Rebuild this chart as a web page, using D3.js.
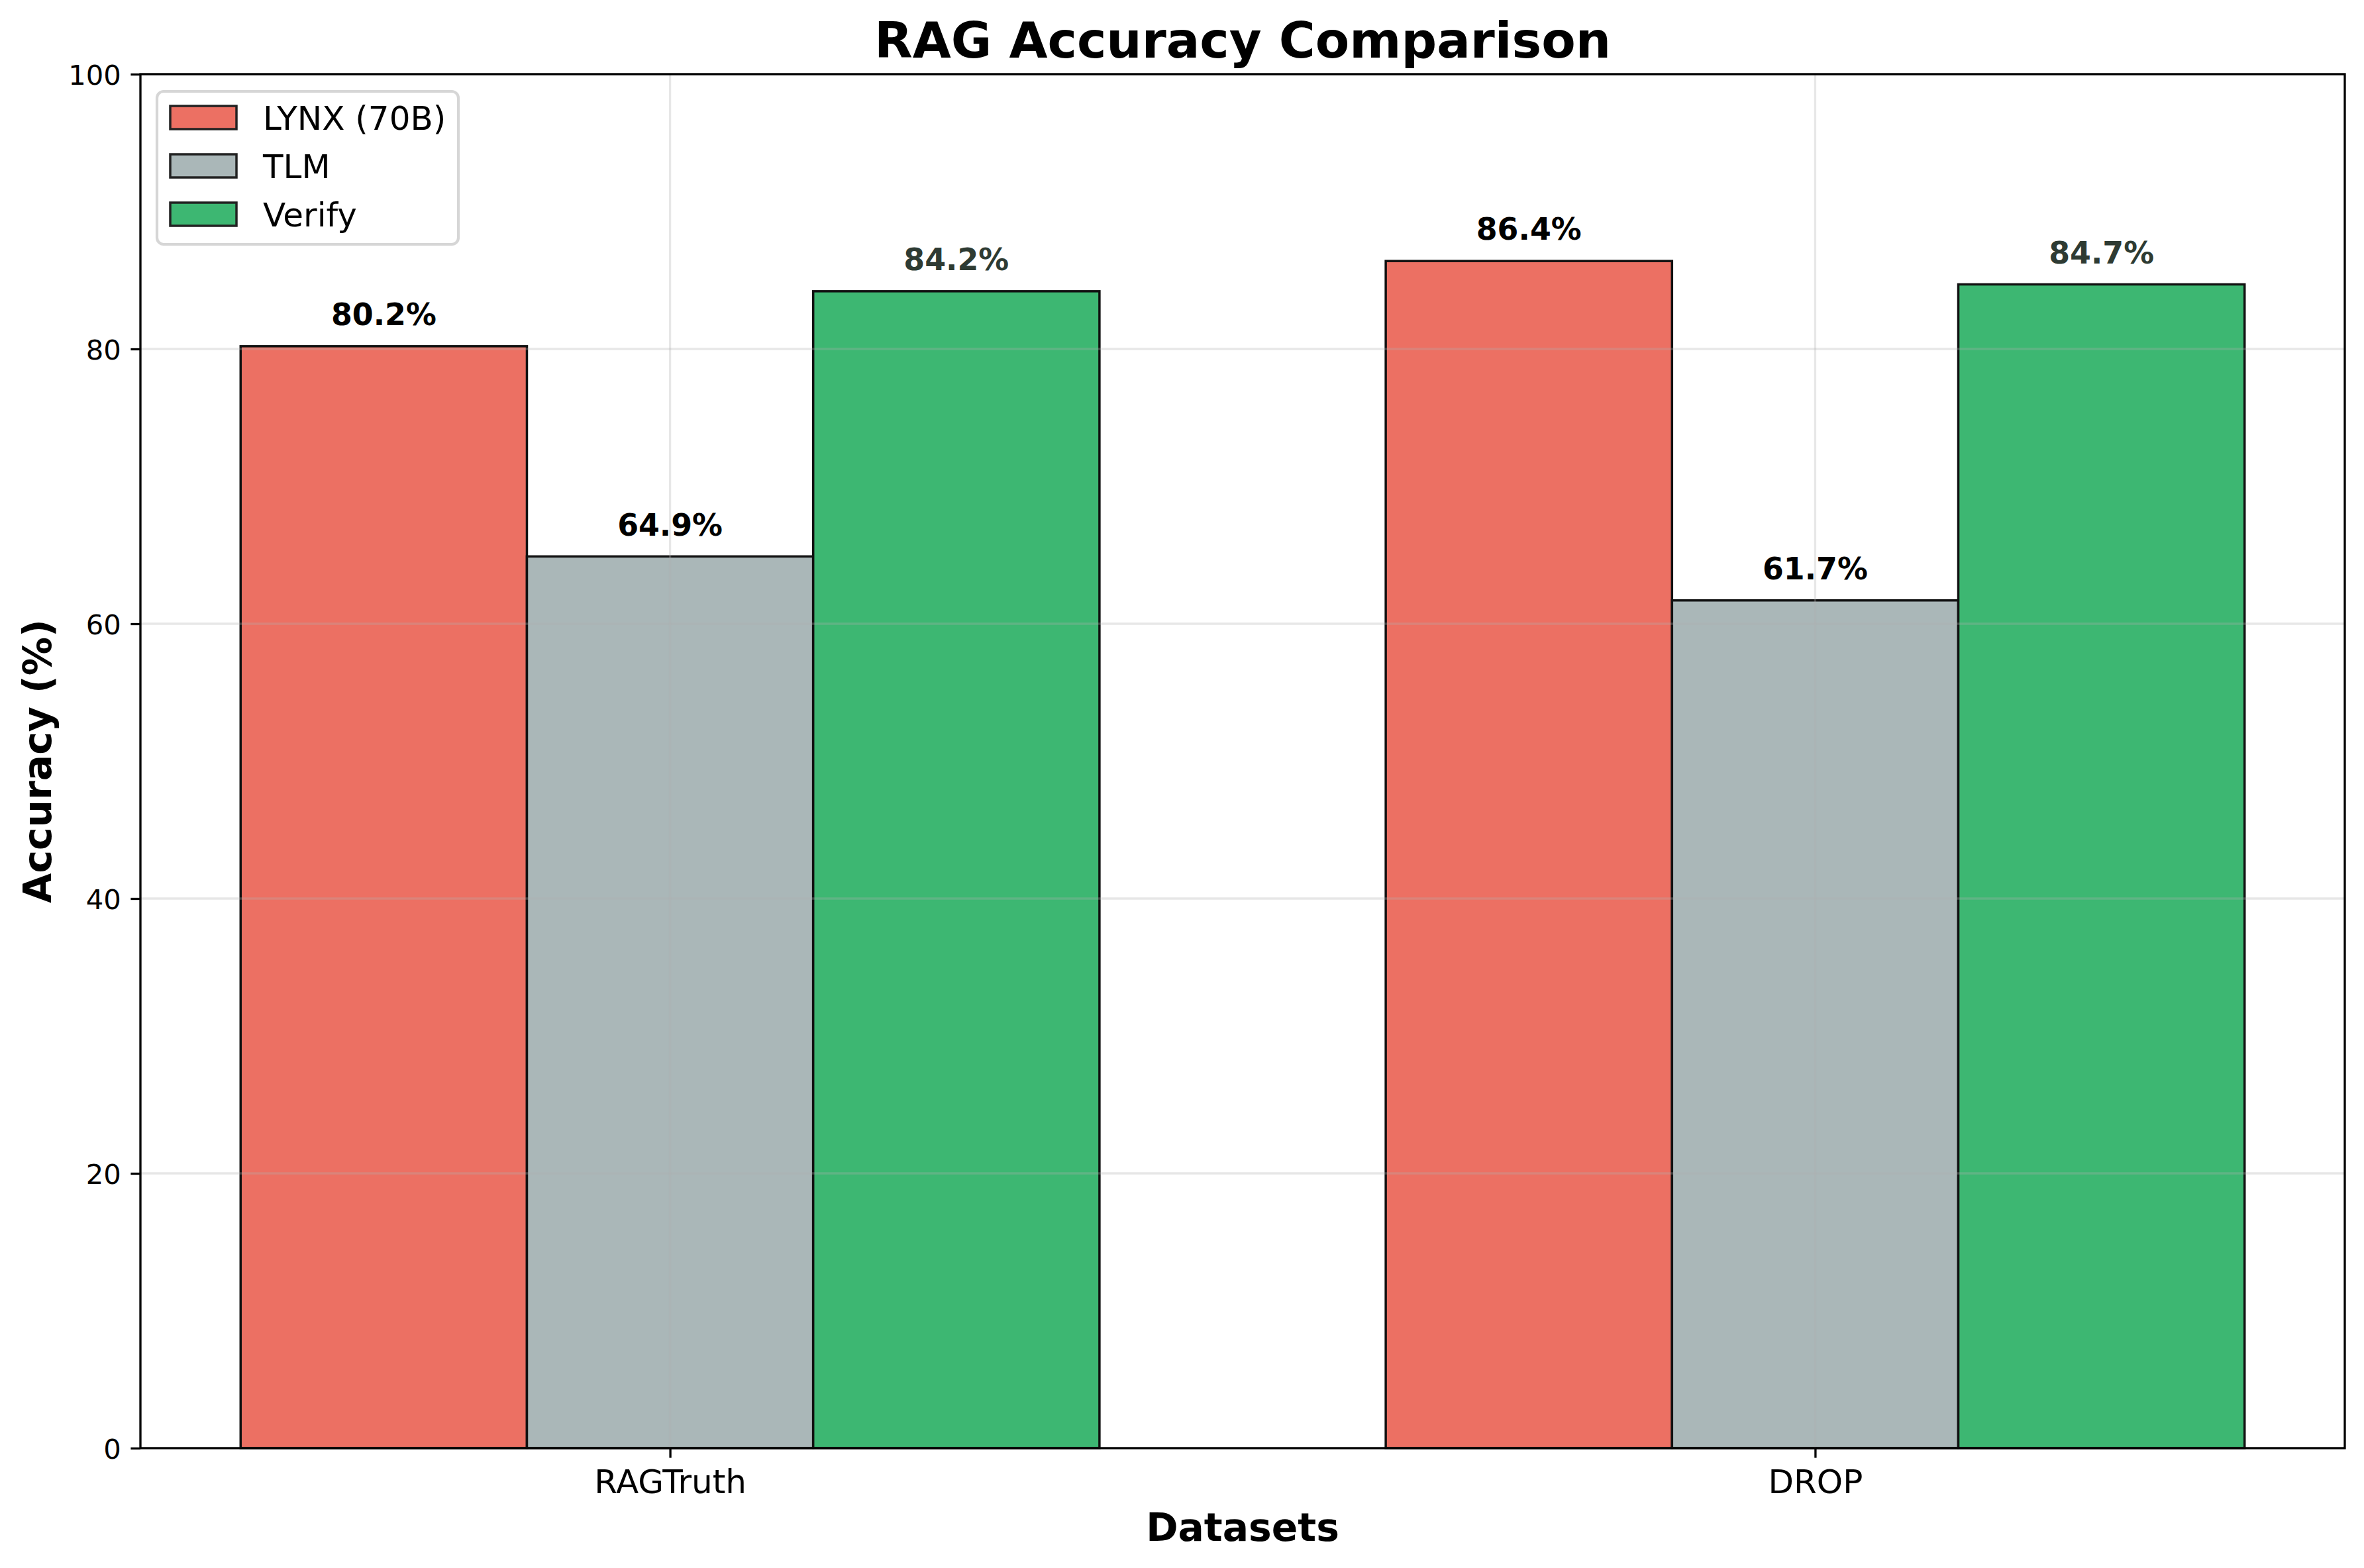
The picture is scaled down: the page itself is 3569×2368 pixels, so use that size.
<!DOCTYPE html>
<html>
<head>
<meta charset="utf-8">
<script src="https://cdn.jsdelivr.net/npm/d3@7"></script>
<style>
  body { margin: 0; background: white; }
  text { font-family: "DejaVu Sans", sans-serif; }
</style>
</head>
<body>
<svg id="chart" width="3569" height="2368"></svg>
<script>
var datasets = ['RAGTruth', 'DROP'];
var methods = ['LYNX (70B)', 'TLM', 'Verify'];
var lynxValues = [80.2, 86.4];
var tlmValues = [64.9, 61.7];
var verifyValues = [84.2, 84.7];
var yTicks = [0, 20, 40, 60, 80, 100];

var seriesValues = [lynxValues, tlmValues, verifyValues];
var barColors = ['#EC7063', '#AAB7B8', '#3DB772'];
var labelColors = ['#000000', '#000000', '#2e3b33'];

var W = 3569, H = 2368;
// plot area (window.top is read-only, so no plain "top")
var axLeft = 212, axRight = 3540, axTop = 112, axBottom = 2187;
var barW = 0.25;

var svg = d3.select('#chart');

svg.append('rect')
  .attr('width', W)
  .attr('height', H)
  .style('fill', 'white');

// x in category units, matplotlib-style margins
var x = d3.scaleLinear()
  .domain([-0.4625, 1.4625])
  .range([axLeft, axRight]);

var y = d3.scaleLinear()
  .domain([0, 100])
  .range([axBottom, axTop]);

// bars
var bars = [];
seriesValues.forEach(function(vals, s){
  vals.forEach(function(v, i){
    bars.push({ s: s, i: i, value: v });
  });
});

svg.selectAll('.bar')
  .data(bars)
  .enter()
  .append('rect')
  .attr('class', 'bar')
  .attr('x', function(d){
    return x(d.i + (d.s - 1) * barW - barW / 2);
  })
  .attr('width', function(d){
    return x(barW) - x(0);
  })
  .attr('y', function(d){
    return y(d.value);
  })
  .attr('height', function(d){
    return y(0) - y(d.value);
  })
  .style('fill', function(d){
    return barColors[d.s];
  })
  .style('stroke', '#111')
  .style('stroke-width', 3.5);

// grid (drawn over the bars like matplotlib's default)
var grid = svg.append('g').attr('class', 'grid');
grid.selectAll('.hgrid')
  .data(yTicks)
  .enter()
  .append('line')
  .attr('x1', axLeft)
  .attr('x2', axRight)
  .attr('y1', function(d){ return y(d); })
  .attr('y2', function(d){ return y(d); })
  .style('stroke', '#b0b0b0')
  .style('stroke-opacity', 0.3)
  .style('stroke-width', 3.3);
grid.selectAll('.vgrid')
  .data(datasets)
  .enter()
  .append('line')
  .attr('x1', function(d, i){ return x(i); })
  .attr('x2', function(d, i){ return x(i); })
  .attr('y1', axTop)
  .attr('y2', axBottom)
  .style('stroke', '#b0b0b0')
  .style('stroke-opacity', 0.3)
  .style('stroke-width', 3.3);

// value labels
svg.selectAll('.vlabel')
  .data(bars)
  .enter()
  .append('text')
  .attr('class', 'vlabel')
  .attr('x', function(d){
    return x(d.i + (d.s - 1) * barW);
  })
  .attr('y', function(d){
    return y(d.value + 1) - 11;
  })
  .attr('text-anchor', 'middle')
  .style('font-size', '45.8px')
  .style('font-weight', 'bold')
  .style('fill', function(d){
    return labelColors[d.s];
  })
  .text(function(d){
    return d.value.toFixed(1) + '%';
  });

// axes
var xAxis = d3.axisBottom(x)
  .tickValues([0, 1])
  .tickFormat(function(d){ return datasets[d]; })
  .tickSize(14.6)
  .tickPadding(14.6);

var gx = svg.append('g')
  .attr('transform', 'translate(0,' + axBottom + ')')
  .call(xAxis);
gx.select('.domain').remove();
gx.selectAll('.tick line').style('stroke', 'black').style('stroke-width', 3.3);
gx.selectAll('.tick text')
  .attr('dy', null)
  .attr('y', 68)
  .style('font-size', '50px')
  .style('font-family', '"DejaVu Sans", sans-serif')
  .style('fill', 'black');

var yAxis = d3.axisLeft(y)
  .tickValues(yTicks)
  .tickSize(14.6)
  .tickPadding(14.6);

var gy = svg.append('g')
  .attr('transform', 'translate(' + axLeft + ',0)')
  .call(yAxis);
gy.select('.domain').remove();
gy.selectAll('.tick line').style('stroke', 'black').style('stroke-width', 3.3);
gy.selectAll('.tick text')
  .attr('dy', '0.36em')
  .style('font-size', '41.7px')
  .style('font-family', '"DejaVu Sans", sans-serif')
  .style('fill', 'black');

// frame
svg.append('rect')
  .attr('x', axLeft)
  .attr('y', axTop)
  .attr('width', axRight - axLeft)
  .attr('height', axBottom - axTop)
  .style('fill', 'none')
  .style('stroke', 'black')
  .style('stroke-width', 3.3);

// titles
svg.append('text')
  .attr('x', (axLeft + axRight) / 2)
  .attr('y', 87)
  .attr('text-anchor', 'middle')
  .style('font-size', '75px')
  .style('font-weight', 'bold')
  .text('RAG Accuracy Comparison');

svg.append('text')
  .attr('x', (axLeft + axRight) / 2)
  .attr('y', 2327)
  .attr('text-anchor', 'middle')
  .style('font-size', '58.3px')
  .style('font-weight', 'bold')
  .text('Datasets');

svg.append('text')
  .attr('transform', 'translate(77,' + ((axTop + axBottom) / 2) + ') rotate(-90)')
  .attr('text-anchor', 'middle')
  .style('font-size', '58.3px')
  .style('font-weight', 'bold')
  .text('Accuracy (%)');

// legend
var lg = svg.append('g').attr('class', 'legend');
lg.append('rect')
  .attr('x', 237)
  .attr('y', 138)
  .attr('width', 455)
  .attr('height', 231)
  .attr('rx', 10)
  .style('fill', 'white')
  .style('fill-opacity', 0.8)
  .style('stroke', '#d6d6d6')
  .style('stroke-width', 4.2);

var rows = lg.selectAll('.row')
  .data(methods)
  .enter()
  .append('g')
  .attr('transform', function(d, i){
    return 'translate(0,' + (177.5 + i * 73) + ')';
  });
rows.append('rect')
  .attr('x', 257)
  .attr('y', -17.5)
  .attr('width', 100)
  .attr('height', 35)
  .style('fill', function(d, i){ return barColors[i]; })
  .style('stroke', '#222')
  .style('stroke-width', 3.5);
rows.append('text')
  .attr('x', 397)
  .attr('y', 18)
  .style('font-size', '50px')
  .style('fill', 'black')
  .text(function(d){ return d; });
</script>
</body>
</html>
